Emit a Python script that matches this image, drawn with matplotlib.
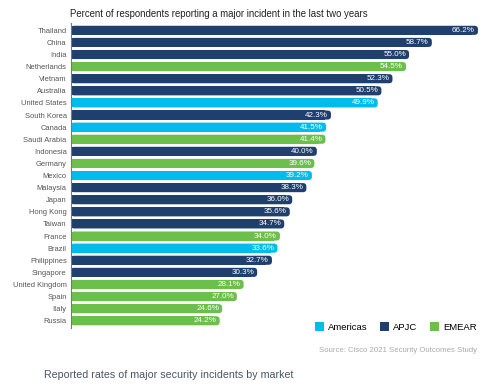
import matplotlib.pyplot as plt
from matplotlib.patches import FancyBboxPatch, Patch

countries = ['Thailand', 'China', 'India', 'Netherlands', 'Vietnam', 'Australia',
             'United States', 'South Korea', 'Canada', 'Saudi Arabia', 'Indonesia',
             'Germany', 'Mexico', 'Malaysia', 'Japan', 'Hong Kong', 'Taiwan', 'France',
             'Brazil', 'Philippines', 'Singapore', 'United Kingdom', 'Spain', 'Italy',
             'Russia']
values = [66.2, 58.7, 55.0, 54.5, 52.3, 50.5, 49.9, 42.3, 41.5, 41.4, 40.0, 39.6,
          39.2, 38.3, 36.0, 35.6, 34.7, 34.0, 33.6, 32.7, 30.3, 28.1, 27.0, 24.6, 24.2]
regions = ['APJC', 'APJC', 'APJC', 'EMEAR', 'APJC', 'APJC', 'Americas', 'APJC',
           'Americas', 'EMEAR', 'APJC', 'EMEAR', 'Americas', 'APJC', 'APJC', 'APJC',
           'APJC', 'EMEAR', 'Americas', 'APJC', 'APJC', 'EMEAR', 'EMEAR', 'EMEAR', 'EMEAR']
region_colors = {'Americas': '#00bceb', 'APJC': '#1f3f6e', 'EMEAR': '#6cbf4b'}

plt.rcParams['font.family'] = ['Liberation Sans', 'DejaVu Sans']

fig = plt.figure(figsize=(4.99, 3.88), dpi=100)
ax = fig.add_axes([0.142, 0.1546, 0.838, 0.786])

n = len(countries)
xmax = 68.0
h = 0.75
# px per unit along x / px per unit along y, so rounded ends look circular
aspect = (0.838 * 499 / xmax) / (0.786 * 388 / (n + 0.2))

for i, (c, v, r) in enumerate(zip(countries, values, regions)):
    col = region_colors[r]
    box = FancyBboxPatch((0, i - h / 2), v, h,
                         boxstyle='round,pad=0,rounding_size=0.55',
                         mutation_aspect=aspect, fc=col, ec='none')
    ax.add_patch(box)
    ax.barh(i, v - 1, height=h, left=0, color=col)
    ax.text(v - 0.5, i, f'{v:.1f}%', color='white', fontsize=5.8,
            ha='right', va='center')

ax.set_xlim(0, xmax)
ax.set_ylim(n - 0.4, -0.6)
ax.set_yticks(range(n))
ax.set_yticklabels(countries, fontsize=5.4, color='#555555')
ax.tick_params(axis='y', length=0, pad=3)
ax.set_xticks([])
for s in ['top', 'right', 'bottom']:
    ax.spines[s].set_visible(False)
ax.spines['left'].set_color('#777777')
ax.spines['left'].set_linewidth(0.8)

fig.text(0.140, 0.963, 'Percent of respondents reporting a major incident in the last two years',
         fontsize=6.9, color='#222222', ha='left', va='center')

handles = [Patch(facecolor=region_colors[k], label=k) for k in ['Americas', 'APJC', 'EMEAR']]
fig.legend(handles=handles, loc='center right', bbox_to_anchor=(0.972, 0.157), ncol=3,
           frameon=False, fontsize=6.8, handlelength=1.0, handleheight=1.0,
           handletextpad=0.4, columnspacing=1.3)

fig.text(0.956, 0.097, 'Source: Cisco 2021 Security Outcomes Study', fontsize=5.6,
         color='#aaaaaa', ha='right', va='center')
fig.text(0.088, 0.033, 'Reported rates of major security incidents by market', fontsize=7.7,
         color='#4a5568', ha='left', va='center')

fig.savefig('out.png', dpi=100)
